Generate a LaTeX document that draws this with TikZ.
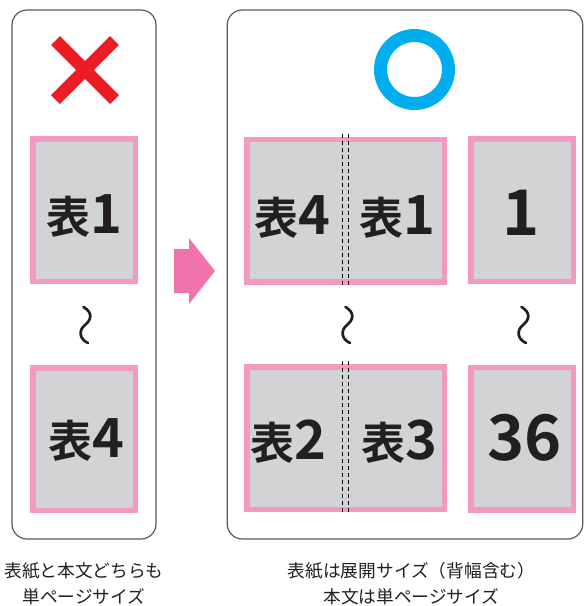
\documentclass[tikz,border=0pt]{standalone}
\usepackage{fontspec}
\setmainfont{Noto Sans CJK JP}
\newfontfamily\jpbold{Noto Sans CJK JP Bold}
\definecolor{pinkline}{HTML}{F49AC1}
\definecolor{pagegray}{HTML}{D1D3D4}
\definecolor{arrowpink}{HTML}{F173AC}
\definecolor{ngred}{HTML}{ED1C24}
\definecolor{okblue}{HTML}{00AEEF}
\definecolor{panelline}{HTML}{58595B}
\definecolor{txt}{HTML}{231F20}
\newcommand\hyolab[2]{{\jpbold\fontsize{44}{44}\selectfont #1}{\jpbold\fontsize{54}{54}\selectfont #2}}
\newcommand\numlab[1]{{\jpbold\fontsize{63}{63}\selectfont #1}}
\tikzset{
  panel/.style={draw=panelline, line width=1.2pt, rounded corners=15pt, inner sep=0pt},
  pagebox/.style={draw=pinkline, fill=pagegray, line width=5.5pt, inner sep=0pt},
  lab/.style={anchor=base, inner sep=0pt, text=txt},
  captext/.style={anchor=base, inner sep=0pt, text=txt, font=\fontsize{17.7}{17.7}\selectfont},
  spine/.style={draw=black, line width=0.8pt, dash pattern=on 4pt off 3pt},
  wave/.style={draw=txt, line width=2.7pt, line cap=round},
}
\begin{document}
\begin{tikzpicture}[x=1pt,y=-1pt]
\useasboundingbox (0,0) rectangle (584,606);
% panels
\node[panel, minimum width=144pt, minimum height=529pt] (leftpanel) at (84,274.5) {};
\node[panel, minimum width=355.5pt, minimum height=529pt] (rightpanel) at (405,274.5) {};
% red cross
\coordinate (xa) at (55.5,40.5);
\coordinate (xb) at (114.5,99.5);
\coordinate (xc) at (55.5,99.5);
\coordinate (xd) at (114.5,40.5);
\draw[ngred, line width=12.5pt] (xa) -- (xb);
\draw[ngred, line width=12.5pt] (xc) -- (xd);
% blue circle
\coordinate (okc) at (414.5,69.5);
\draw[okblue, line width=13pt] (okc) circle[radius=34pt];
% arrow
\fill[arrowpink] (174,249) -- (189,249) -- (189,238) -- (215,271) -- (189,304) -- (189,293) -- (174,293) -- cycle;
% left pages
\node[pagebox, minimum width=102.5pt, minimum height=142.5pt] (l1) at (84,210) {};
\node[pagebox, minimum width=102.5pt, minimum height=142.5pt] (l4) at (84,439) {};
% right spreads
\node[pagebox, minimum width=197.5pt, minimum height=142.5pt] (s1) at (345.5,210.5) {};
\node[pagebox, minimum width=197.5pt, minimum height=142.5pt] (s2) at (345.5,438) {};
% right single pages
\node[pagebox, minimum width=102.5pt, minimum height=142.5pt] (p1) at (522,210) {};
\node[pagebox, minimum width=102.5pt, minimum height=142.5pt] (p36) at (522,438.5) {};
% spine dashed lines
\draw[spine] ([xshift=-3.3pt,yshift=2.75pt]s1.north) -- ([xshift=-3.3pt,yshift=-2.75pt]s1.south);
\draw[spine] ([xshift=3.3pt,yshift=2.75pt]s1.north) -- ([xshift=3.3pt,yshift=-2.75pt]s1.south);
\draw[spine] ([xshift=-3.3pt,yshift=2.75pt]s2.north) -- ([xshift=-3.3pt,yshift=-2.75pt]s2.south);
\draw[spine] ([xshift=3.3pt,yshift=2.75pt]s2.north) -- ([xshift=3.3pt,yshift=-2.75pt]s2.south);
% labels
\node[lab] (t1) at (84.5,233.5) {\hyolab{表}{1}};
\node[lab] (t4l) at (86,457) {\hyolab{表}{4}};
\node[lab] (t4) at (292,234) {\hyolab{表}{4}};
\node[lab] (t1r) at (397,234) {\hyolab{表}{1}};
\node[lab] (t2) at (288,459) {\hyolab{表}{2}};
\node[lab] (t3) at (399.5,459) {\hyolab{表}{3}};
\node[lab] (n1) at (521,235) {\numlab{1}};
\node[lab] (n36) at (524.5,460) {\numlab{36}};
% waves
\foreach \cx in {85,347,523} {
  \draw[wave] (\cx-1.5,307) .. controls (\cx+8.5,313) and (\cx+6,320) .. (\cx,325)
      .. controls (\cx-6.5,330) and (\cx-6,339) .. (\cx+3,343);
}
% captions
\node[captext] (c1a) at (84,577) {表紙と本文どちらも};
\node[captext] (c1b) at (84,603) {単ページサイズ};
\node[captext] (c2a) at (411.5,577) {表紙は展開サイズ（背幅含む）};
\node[captext] (c2b) at (411.5,603) {本文は単ページサイズ};
\end{tikzpicture}
\end{document}
